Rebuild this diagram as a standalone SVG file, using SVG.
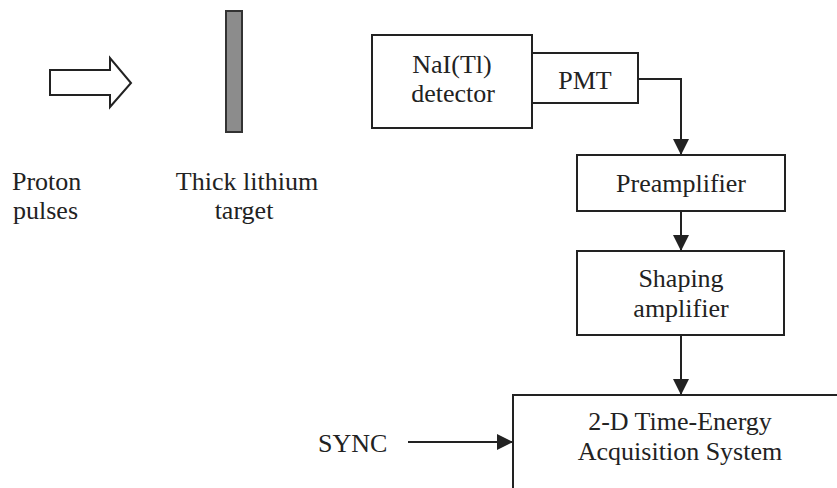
<svg xmlns="http://www.w3.org/2000/svg" width="837" height="488" viewBox="0 0 837 488">
<style>
.box{fill:#fff;stroke:#222;stroke-width:2}
.t{font-size:26px;fill:#222}
.c{text-anchor:middle}
.ln{fill:none;stroke:#222;stroke-width:2}
</style>
<defs>
<marker id="ah" markerUnits="userSpaceOnUse" markerWidth="16" markerHeight="16" viewBox="0 0 16 16" refX="15" refY="8" orient="auto">
<path d="M0,0 L16,8 L0,16 Z" fill="#222"/>
</marker>
</defs>
<rect width="837" height="488" fill="#fff"/>
<g font-family="'Liberation Serif', 'DejaVu Serif', serif">
<g id="proton">
<polygon points="50,70 110,70 110,58 131,83 110,107 110,95 50,95" fill="#fff" stroke="#222" stroke-width="2"/>
<text class="t" x="12" y="190">Proton</text>
<text class="t" x="13" y="219">pulses</text>
</g>
<g id="target">
<rect x="226" y="11" width="16" height="121" fill="#8c8c8c" stroke="#333" stroke-width="2"/>
<text class="t c" x="247" y="190">Thick lithium</text>
<text class="t c" x="244" y="219">target</text>
</g>
<g id="nai">
<rect class="box" x="372" y="35" width="160" height="93"/>
<text class="t c" x="452" y="73">NaI(Tl)</text>
<text class="t c" x="453" y="102">detector</text>
</g>
<g id="pmt">
<rect class="box" x="532" y="53" width="106" height="50"/>
<text class="t c" x="585" y="89">PMT</text>
</g>
<g id="preamp">
<rect class="box" x="577" y="155" width="208" height="56"/>
<text class="t c" x="681" y="192">Preamplifier</text>
</g>
<g id="shaping">
<rect class="box" x="577" y="251" width="207" height="84"/>
<text class="t c" x="681" y="287">Shaping</text>
<text class="t c" x="681" y="317">amplifier</text>
</g>
<g id="acq">
<rect class="box" x="513" y="395" width="340" height="120"/>
<text class="t c" x="680" y="430">2-D Time-Energy</text>
<text class="t c" x="680" y="460">Acquisition System</text>
</g>
<g id="sync">
<text class="t" x="318" y="452">SYNC</text>
</g>
</g>
<g id="connectors">
<path class="ln" d="M638,79 H681 V154" marker-end="url(#ah)"/>
<path class="ln" d="M681,211 V250" marker-end="url(#ah)"/>
<path class="ln" d="M681,335 V394" marker-end="url(#ah)"/>
<path class="ln" d="M408,442 H512" marker-end="url(#ah)"/>
</g>
</svg>
